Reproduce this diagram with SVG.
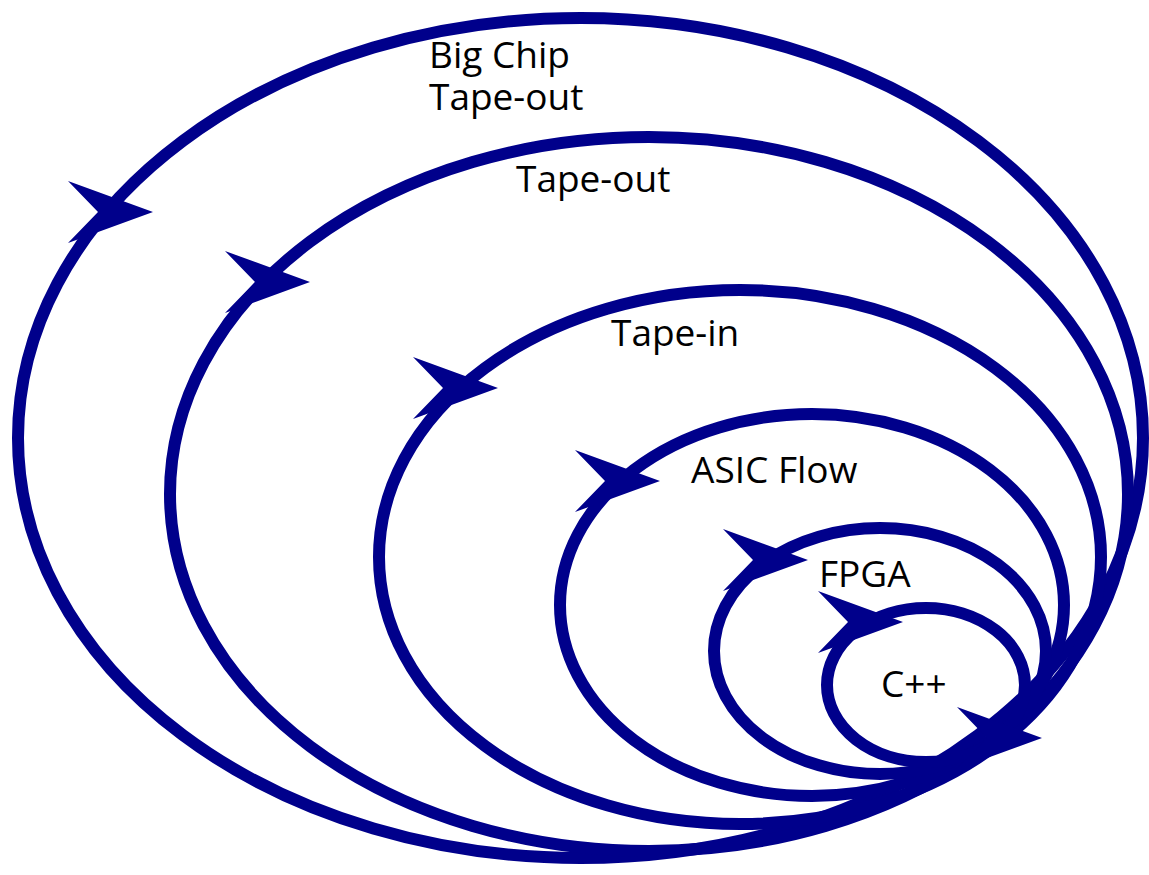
<svg xmlns="http://www.w3.org/2000/svg" width="1149" height="875" viewBox="0 0 1149 875">
<style>
.loop{fill:none;stroke:#00008B;stroke-width:12}
.ah{fill:#00008B}
.lbl{font-family:"Open Sans","Noto Sans",sans-serif;font-size:37px;fill:#000}
</style>
<defs>
<path id="arrow" class="ah" d="M0,0 L-85,-31 L-55,0 L-85,31 Z"/>
</defs>
<rect width="1149" height="875" fill="#fff"/>
<g id="connectors">
<ellipse class="loop" cx="580.5" cy="438" rx="562.5" ry="420"/>
<ellipse class="loop" cx="649" cy="494" rx="479" ry="357"/>
<ellipse class="loop" cx="740" cy="557" rx="361" ry="267"/>
<ellipse class="loop" cx="812" cy="605" rx="252" ry="191"/>
<ellipse class="loop" cx="880" cy="651" rx="166" ry="123"/>
<ellipse class="loop" cx="926" cy="685" rx="99" ry="77"/>
<use href="#arrow" x="153" y="212"/>
<use href="#arrow" x="310" y="282"/>
<use href="#arrow" x="498" y="388"/>
<use href="#arrow" x="660" y="481"/>
<use href="#arrow" x="808" y="560"/>
<use href="#arrow" x="903" y="622"/>
<use href="#arrow" x="1042" y="738"/>
</g>
<g id="node-bigchip"><text class="lbl" x="429" y="68">Big Chip</text><text class="lbl" x="429" y="110">Tape-out</text></g>
<g id="node-tapeout"><text class="lbl" x="516" y="192">Tape-out</text></g>
<g id="node-tapein"><text class="lbl" x="611" y="346">Tape-in</text></g>
<g id="node-asic"><text class="lbl" x="691" y="483">ASIC Flow</text></g>
<g id="node-fpga"><text class="lbl" x="819" y="587">FPGA</text></g>
<g id="node-cpp"><text class="lbl" x="881" y="697">C++</text></g>
</svg>
